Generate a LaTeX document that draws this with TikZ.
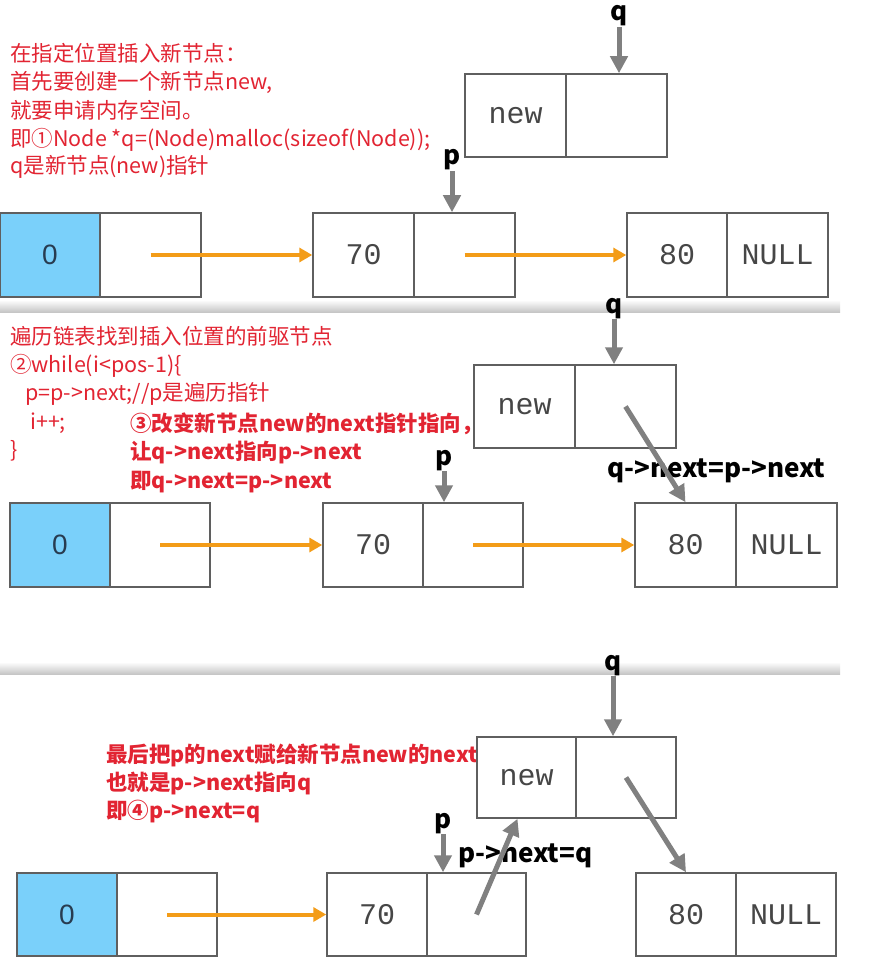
\documentclass[tikz,border=0pt]{standalone}
\usepackage{fontspec}
\newfontfamily\cjk{Noto Sans CJK SC}
\newfontfamily\mono{Liberation Mono}
\newfontfamily\zsans{Liberation Sans}
\usetikzlibrary{arrows.meta}
\definecolor{redA}{RGB}{226,36,50}
\definecolor{boxline}{RGB}{95,95,95}
\definecolor{blueA}{RGB}{122,208,250}
\definecolor{orangeA}{RGB}{243,156,24}
\definecolor{grayA}{RGB}{128,128,128}
\definecolor{txtA}{RGB}{70,70,70}
\definecolor{zeroC}{RGB}{40,60,80}
\begin{document}
\begin{tikzpicture}[x=1pt,y=-1pt,
  cell/.style={draw=boxline, line width=1.5pt, minimum height=84pt, inner sep=0pt,
    font=\mono\fontsize{30}{32}\selectfont, text=txtA},
  zcell/.style={cell, fill=blueA, font=\zsans\fontsize{28}{30}\selectfont, text=zeroC},
  rtxt/.style={anchor=base west, inner sep=0pt, text=redA, font=\cjk\fontsize{21.5}{24}\selectfont},
  rbold/.style={rtxt, font=\cjk\bfseries\fontsize{21.5}{24}\selectfont},
  blk/.style={inner sep=0pt, text height=15pt, text depth=6pt, text=black,
    font=\cjk\bfseries\fontsize{26}{28}\selectfont},
  oarrow/.style={draw=orangeA, line width=4pt, -{Triangle[width=14pt,length=13pt]}},
  garrow/.style={draw=grayA, line width=5pt, -{Triangle[width=17pt,length=17pt]}},
  sep/.style={top color=white, bottom color=gray!45, draw=none}
]
\useasboundingbox (0,0) rectangle (885,965);
\fill[white] (0,0) rectangle (885,965);

% separators
\fill[sep] (0,300) rectangle (840,312);
\fill[sep] (0,662) rectangle (840,674);

% ---------------- panel 1 ----------------
\node[rtxt] (t1a) at (10,62) {在指定位置插入新节点：};
\node[rtxt] (t1b) at (10,90) {首先要创建一个新节点new,};
\node[rtxt] (t1c) at (10,119) {就要申请内存空间。};
\node[rtxt] (t1d) at (10,147) {即①Node *q=(Node)malloc(sizeof(Node));};
\node[rtxt] (t1e) at (10,174) {q是新节点(new)指针};

\node[cell, minimum width=101, minimum height=83] (n1a) at (515.5,115.5) {new};
\node[cell, minimum width=101, minimum height=83] (n1b) at (616.5,115.5) {};

\node[zcell, minimum width=100] (r1a) at (50,255) {0};
\node[cell, minimum width=101] (r1b) at (150.5,255) {};
\node[cell, minimum width=101] (r1c) at (363.5,255) {70};
\node[cell, minimum width=101] (r1d) at (464.5,255) {};
\node[cell, minimum width=100] (r1e) at (677,255) {80};
\node[cell, minimum width=101] (r1f) at (777.5,255) {NULL};

\draw[oarrow] (r1b.center) -- (r1c.west);
\draw[oarrow] (r1d.center) -- (r1e.west);

\node[blk, anchor=base] (q1) at (619,21) {q};
\node[blk, anchor=base] (p1) at (452,165) {p};
\draw[garrow] (q1.south) -- (q1.south |- n1b.north);
\draw[garrow] (p1.south) -- (p1.south |- r1d.north);

% ---------------- panel 2 ----------------
\node[rtxt] (t2a) at (10,344) {遍历链表找到插入位置的前驱节点};
\node[rtxt] (t2b) at (10,372) {②while(i<pos-1)\{};
\node[rtxt] (t2c) at (25,400) {p=p->next;//p是遍历指针};
\node[rtxt] (t2d) at (30,429) {i++;};
\node[rtxt] (t2e) at (10,457) {\}};
\node[rbold] (t2f) at (130,431) {③改变新节点new的next指针指向，};
\node[rbold] (t2g) at (130,459) {让q->next指向p->next};
\node[rbold] (t2h) at (130,488) {即q->next=p->next};

\node[cell, minimum width=101, minimum height=83] (n2a) at (524.5,406.5) {new};
\node[cell, minimum width=101, minimum height=83] (n2b) at (625.5,406.5) {};

\node[zcell, minimum width=100] (r2a) at (60,545) {0};
\node[cell, minimum width=100] (r2b) at (160,545) {};
\node[cell, minimum width=100] (r2c) at (373,545) {70};
\node[cell, minimum width=100] (r2d) at (473,545) {};
\node[cell, minimum width=101] (r2e) at (685.5,545) {80};
\node[cell, minimum width=101] (r2f) at (786.5,545) {NULL};

\draw[oarrow] (r2b.center) -- (r2c.west);
\draw[oarrow] (r2d.center) -- (r2e.west);

\node[blk, anchor=base west] (l2) at (607,477) {q->next=p->next};
\node[blk, anchor=base] (q2) at (614,313) {q};
\node[blk, anchor=base] (p2) at (444,465) {p};
\draw[garrow] (q2.south) -- (q2.south |- n2b.north);
\draw[garrow] (p2.south) -- (p2.south |- r2d.north);
\draw[garrow] (n2b.center) -- (r2e.north);

% ---------------- panel 3 ----------------
\node[rbold] (t3a) at (106,762) {最后把p的next赋给新节点new的next};
\node[rbold] (t3b) at (106,790) {也就是p->next指向q};
\node[rbold] (t3c) at (106,818) {即④p->next=q};

\node[cell, minimum width=99, minimum height=81] (n3a) at (526.5,777.5) {new};
\node[cell, minimum width=100, minimum height=81] (n3b) at (626,777.5) {};

\node[zcell, minimum width=100, minimum height=83] (r3a) at (67,914.5) {0};
\node[cell, minimum width=100, minimum height=83] (r3b) at (167,914.5) {};
\node[cell, minimum width=100, minimum height=83] (r3c) at (377,914.5) {70};
\node[cell, minimum width=99, minimum height=83] (r3d) at (476.5,914.5) {};
\node[cell, minimum width=100, minimum height=83] (r3e) at (686,914.5) {80};
\node[cell, minimum width=100, minimum height=83] (r3f) at (786,914.5) {NULL};

\draw[oarrow] (r3b.center) -- (r3c.west);

\node[blk, anchor=base west] (l3) at (458,862) {p->next=q};
\node[blk, anchor=base] (q3) at (613,670) {q};
\node[blk, anchor=base] (p3) at (443,828) {p};
\draw[garrow] (q3.south) -- (q3.south |- n3b.north);
\draw[garrow] (p3.south) -- (p3.south |- r3d.north);
\draw[garrow] (r3d.center) -- ([xshift=-9pt]n3a.south);
\draw[garrow] (n3b.center) -- (r3e.north);
\end{tikzpicture}
\end{document}
